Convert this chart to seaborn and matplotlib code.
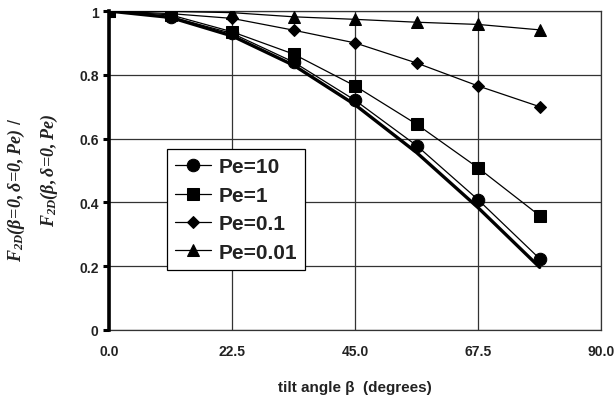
import matplotlib
matplotlib.use("Agg")
import matplotlib.pyplot as plt
import seaborn as sns
import pandas as pd

angles = [0.0, 11.25, 22.5, 33.75, 45.0, 56.25, 67.5, 78.75]
pe10 = [1.0, 0.982, 0.930, 0.840, 0.720, 0.578, 0.408, 0.223]
pe1 = [1.0, 0.988, 0.935, 0.865, 0.765, 0.645, 0.508, 0.358]
pe01 = [1.0, 0.992, 0.977, 0.940, 0.900, 0.837, 0.765, 0.700]
pe001 = [1.0, 0.999, 0.995, 0.982, 0.974, 0.965, 0.958, 0.941]
limit_curve = [1.0, 0.980, 0.922, 0.830, 0.706, 0.556, 0.383, 0.196]
series_names = ["Pe=10", "Pe=1", "Pe=0.1", "Pe=0.01"]
xticks = [0.0, 22.5, 45.0, 67.5, 90.0]
xtick_labels = ["0.0", "22.5", "45.0", "67.5", "90.0"]
yticks = [0, 0.2, 0.4, 0.6, 0.8, 1.0]
ytick_labels = ["0", "0.2", "0.4", "0.6", "0.8", "1"]

sns.set_style("white")
plt.rcParams["font.family"] = ["Liberation Sans", "DejaVu Sans"]
plt.rcParams["mathtext.fontset"] = "custom"
plt.rcParams["mathtext.it"] = "Liberation Serif:bold:italic"
plt.rcParams["mathtext.rm"] = "Liberation Serif:bold:italic"
plt.rcParams["mathtext.bf"] = "Liberation Serif:bold:italic"

rows = []
for name, vals in zip(series_names, [pe10, pe1, pe01, pe001]):
    for a, v in zip(angles, vals):
        rows.append({"angle": a, "value": v, "series": name})
df = pd.DataFrame(rows)
df_lim = pd.DataFrame({"angle": angles, "value": limit_curve})

fig = plt.figure(figsize=(6.16, 4.02), dpi=100)
ax = fig.add_axes([0.177, 0.177, 0.799, 0.793])

sns.lineplot(data=df_lim, x="angle", y="value", ax=ax, color="black",
             linewidth=2.4, legend=False, zorder=3)

markers = {"Pe=10": "o", "Pe=1": "s", "Pe=0.1": "D", "Pe=0.01": "^"}
sizes_map = {"Pe=10": 9, "Pe=1": 8.5, "Pe=0.1": 6.5, "Pe=0.01": 8.5}
for name in series_names:
    sub = df[df["series"] == name]
    sns.lineplot(data=sub, x="angle", y="value", ax=ax, color="black",
                 linewidth=0.9, marker=markers[name], markersize=sizes_map[name],
                 markeredgecolor="black", markerfacecolor="black",
                 label=name, zorder=4)

ax.set_xlim(0, 90)
ax.set_ylim(0, 1)
ax.set_xticks(xticks)
ax.set_xticklabels(xtick_labels, fontsize=10, fontweight="bold", color="#222222")
ax.set_yticks(yticks)
ax.set_yticklabels(ytick_labels, fontsize=10, fontweight="bold", color="#222222")
ax.tick_params(axis="x", length=0, pad=10)
ax.tick_params(axis="y", length=4.5, width=2.2, color="black", pad=3, direction="out", left=True)
ax.grid(True, color="#333333", linewidth=0.9)
ax.set_axisbelow(True)

for s in ["top", "right", "bottom"]:
    ax.spines[s].set_color("#333333")
    ax.spines[s].set_linewidth(0.9)
ax.spines["left"].set_color("black")
ax.spines["left"].set_linewidth(2.6)
ax.spines["left"].set_zorder(5)

ax.set_xlabel("tilt angle \u03b2  (degrees)", fontsize=11, fontweight="bold",
              color="#222222", labelpad=16)
ax.set_ylabel("")

fig.text(0.026, 0.527, r"$F_{2D}(\beta\!=\!0,\delta\!=\!0,Pe)$ /", rotation=90,
         ha="center", va="center", fontsize=13, color="#222222")
fig.text(0.080, 0.575, r"$F_{2D}(\beta,\delta\!=\!0,Pe)$", rotation=90,
         ha="center", va="center", fontsize=13, color="#222222")

leg = ax.legend(loc="lower left", bbox_to_anchor=(0.118, 0.188), borderaxespad=0,
                frameon=True, fancybox=False, shadow=False, handlelength=1.7,
                prop={"family": "Liberation Sans", "weight": "bold", "size": 15},
                labelspacing=0.45, borderpad=0.4, handletextpad=0.35)
leg.get_frame().set_edgecolor("black")
leg.get_frame().set_linewidth(0.9)
leg.get_frame().set_alpha(1)
for t in leg.get_texts():
    t.set_color("#222222")

fig.savefig("out.png", dpi=100)
